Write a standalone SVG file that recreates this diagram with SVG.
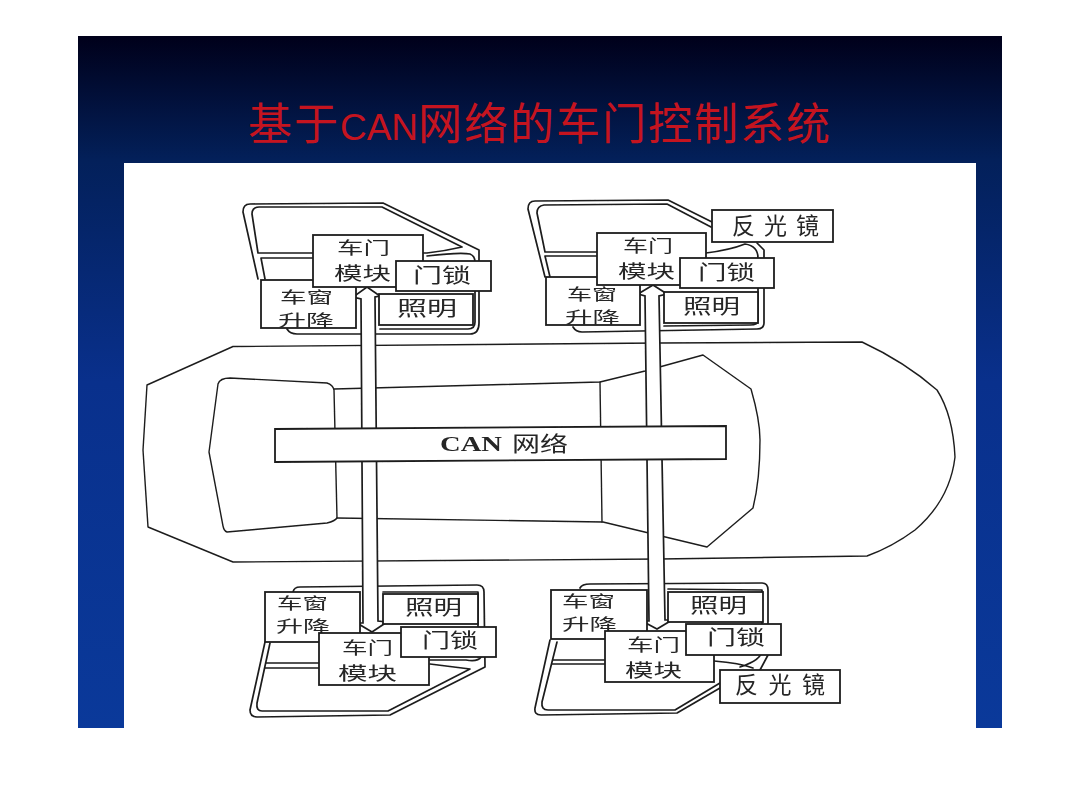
<svg xmlns="http://www.w3.org/2000/svg" width="1080" height="810" viewBox="0 0 1080 810">
<style>
.ln{fill:none;stroke:#1c1c1c;stroke-width:1.4;stroke-linejoin:round;stroke-linecap:round}
.dr{fill:none;stroke:#1c1c1c;stroke-width:1.7;stroke-linejoin:round;stroke-linecap:round}
.bx{fill:#fff;stroke:#1c1c1c;stroke-width:1.8}
.ar{fill:#fff;stroke:#1c1c1c;stroke-width:1.7;stroke-linejoin:miter}
text{font-family:"Noto Sans CJK SC","Liberation Serif",sans-serif;fill:#262626}
.a{font-size:17px}
.b{font-size:18px}
.c{font-size:20px}
.e{font-size:16px}
.g{font-size:23px}
</style>
<defs>
<linearGradient id="bg" x1="0" y1="0" x2="0" y2="1">
<stop offset="0" stop-color="#00001a"/>
<stop offset="0.18" stop-color="#03205a"/>
<stop offset="0.5" stop-color="#09308c"/>
<stop offset="1" stop-color="#0a399a"/>
</linearGradient>
<filter id="soft" x="-2%" y="-2%" width="104%" height="104%"><feGaussianBlur stdDeviation="0.45"/></filter>
</defs>
<rect width="1080" height="810" fill="#fff"/>
<rect id="slide" x="78" y="36" width="924" height="692" fill="url(#bg)"/>
<rect id="panel" x="124" y="163" width="852" height="565" fill="#fff"/>
<text id="title" x="540" y="140" text-anchor="middle" style="font-size:44px;fill:#c5141f;letter-spacing:2px">基于<tspan style="font-family:'Liberation Sans Narrow','Liberation Sans',sans-serif;font-size:37px;letter-spacing:0">CAN</tspan>网络的车门控制系统</text>
<g filter="url(#soft)">
<g id="car">
<path class="ln" d="M233,346.500 L660,343 L862,342 Q905,362 937,390 Q953,415 955,457 Q950,500 915,530 Q892,547 867,556 L660,559 L233,562 L148,527 L143,450 L147,385 Z"/>
<path class="ln" d="M218,384 Q220,378 230,378 L327,383 Q333,385 334,390 L337,518 Q335,521 327,523 L227,532 Q224,531 223,526 L209,452 Z"/>
<path class="ln" d="M334,389 L600,382 L645,371 L703,355 L751,389 Q760,420 760,440 Q760,480 753,508 L707,547 L603,522 L337,518"/>
<path class="ln" d="M600,382 L602,522"/>
</g>
<g id="door-front-left">
<path class="dr" d="M258,279 L243,212 Q243,204 250,204 L383,203 L479,250 L479,323 Q479,334 470,334 L297,334 Q290,334 287,329"/>
<path class="dr" d="M258,253 L252,214 Q252,207 259,207 L382,207 L462,247 Q445,251 427,253 L405,253 M258,253 L313,253 M261,258 L313,258 L261,258 L265,279 M427,256 Q460,252 470,254 Q475,256 475,262 L475,322 Q475,329 468,329 L380,329"/>
</g>
<g id="door-front-right">
<path class="dr" d="M545,277 L528,209 Q528,201 535,201 L668,200 L712,222 M757,243 L764,250 L764,323 Q764,329 757,329 L582,332 Q576,332 573,327"/>
<path class="dr" d="M545,252 L537,213 Q537,206 544,205 L667,204 L711,227 M545,252 L597,252 M545,256 L597,256 M545,256 L550,277 M706,253 Q730,250 745,244 Q758,246 758,258 L758,320 Q758,325 750,325 L664,326"/>
</g>
<g id="door-rear-left">
<path class="dr" d="M293,592 Q294,587 300,587 L477,585 Q484,585 484,592 L485,667 L390,715 L257,717 Q250,717 250,710 L265,642"/>
<path class="dr" d="M270,643 L257,703 Q256,711 262,711 L388,711 L470,669 L430,664 M265,668 L320,668 M267,663 L320,663 M383,592 L478,592 L478,657 M430,660 L466,660 Q478,662 481,657"/>
</g>
<g id="door-rear-right">
<path class="dr" d="M580,588 Q582,584 590,584 L762,583 Q768,583 768,590 L768,655 L760,670 M720,688 L677,713 L541,715 Q534,715 535,708 L550,640"/>
<path class="dr" d="M557,642 L542,702 Q541,710 548,710 L675,710 L720,683 M553,660 L605,660 M552,664 L605,664 M714,661 Q740,663 753,668 M740,667 Q762,660 762,650 L762,590 L668,589"/>
</g>
<g id="connectors">
<path id="link-left" class="ar" d="M367,287 L380,296 L375,297 L378,621 L387,622 L372,632 L357,623 L363,623 L361,299 L353,297 Z"/>
<path id="link-right" class="ar" d="M653,285 L667,294 L659,296 L665,620 L672,620 L657,629 L642,621 L649,621 L645,296 L638,294 Z"/>
</g>
<g id="can-network">
<polygon class="bx" points="275,429 726,426 726,459 275,462"/>
<text y="451" style="font-size:21px"><tspan x="440" textLength="62" lengthAdjust="spacingAndGlyphs" style="font-family:'Liberation Serif',serif;font-weight:bold">CAN</tspan> <tspan x="512" textLength="56" lengthAdjust="spacingAndGlyphs">网络</tspan></text>
</g>
<g id="fl-lift"><rect class="bx" x="261" y="280" width="95" height="48"/><text><tspan class="e" x="280" y="303" textLength="53" lengthAdjust="spacingAndGlyphs">车窗</tspan><tspan class="e" x="278" y="326" textLength="56" lengthAdjust="spacingAndGlyphs">升降</tspan></text></g>
<g id="fl-light"><rect class="bx" x="379" y="294" width="94" height="31"/><text class="c" x="397" y="316" textLength="60" lengthAdjust="spacingAndGlyphs">照明</text></g>
<g id="fl-module"><rect class="bx" x="313" y="235" width="110" height="52"/><text><tspan class="a" x="337" y="254" textLength="53" lengthAdjust="spacingAndGlyphs">车门</tspan><tspan class="b" x="334" y="280" textLength="57" lengthAdjust="spacingAndGlyphs">模块</tspan></text></g>
<g id="fl-lock"><rect class="bx" x="396" y="261" width="95" height="30"/><text class="c" x="413" y="283" textLength="58" lengthAdjust="spacingAndGlyphs">门锁</text></g>
<g id="fr-lift"><rect class="bx" x="546" y="277" width="94" height="48"/><text><tspan class="e" x="567" y="300" textLength="50" lengthAdjust="spacingAndGlyphs">车窗</tspan><tspan class="e" x="565" y="323" textLength="55" lengthAdjust="spacingAndGlyphs">升降</tspan></text></g>
<g id="fr-light"><rect class="bx" x="664" y="292" width="94" height="31"/><text class="c" x="683" y="314" textLength="57" lengthAdjust="spacingAndGlyphs">照明</text></g>
<g id="fr-module"><rect class="bx" x="597" y="233" width="109" height="52"/><text><tspan class="a" x="623" y="252" textLength="50" lengthAdjust="spacingAndGlyphs">车门</tspan><tspan class="b" x="618" y="278" textLength="57" lengthAdjust="spacingAndGlyphs">模块</tspan></text></g>
<g id="fr-lock"><rect class="bx" x="680" y="258" width="94" height="30"/><text class="c" x="698" y="280" textLength="57" lengthAdjust="spacingAndGlyphs">门锁</text></g>
<g id="fr-mirror"><rect class="bx" x="712" y="210" width="121" height="32"/><text class="g" x="732" y="234" textLength="87" lengthAdjust="spacing">反光镜</text></g>
<g id="rl-lift"><rect class="bx" x="265" y="592" width="95" height="50"/><text><tspan class="e" x="277" y="609" textLength="51" lengthAdjust="spacingAndGlyphs">车窗</tspan><tspan class="e" x="276" y="632" textLength="54" lengthAdjust="spacingAndGlyphs">升降</tspan></text></g>
<g id="rl-light"><rect class="bx" x="383" y="594" width="95" height="30"/><text class="c" x="405" y="615" textLength="57" lengthAdjust="spacingAndGlyphs">照明</text></g>
<g id="rl-module"><rect class="bx" x="319" y="633" width="110" height="52"/><text><tspan class="a" x="342" y="654" textLength="51" lengthAdjust="spacingAndGlyphs">车门</tspan><tspan class="b" x="338" y="680" textLength="59" lengthAdjust="spacingAndGlyphs">模块</tspan></text></g>
<g id="rl-lock"><rect class="bx" x="401" y="627" width="95" height="30"/><text class="c" x="422" y="648" textLength="56" lengthAdjust="spacingAndGlyphs">门锁</text></g>
<g id="rr-lift"><rect class="bx" x="551" y="590" width="96" height="49"/><text><tspan class="e" x="562" y="607" textLength="53" lengthAdjust="spacingAndGlyphs">车窗</tspan><tspan class="e" x="562" y="630" textLength="55" lengthAdjust="spacingAndGlyphs">升降</tspan></text></g>
<g id="rr-light"><rect class="bx" x="668" y="592" width="95" height="30"/><text class="c" x="690" y="613" textLength="57" lengthAdjust="spacingAndGlyphs">照明</text></g>
<g id="rr-module"><rect class="bx" x="605" y="631" width="109" height="51"/><text><tspan class="a" x="627" y="651" textLength="53" lengthAdjust="spacingAndGlyphs">车门</tspan><tspan class="b" x="625" y="677" textLength="57" lengthAdjust="spacingAndGlyphs">模块</tspan></text></g>
<g id="rr-lock"><rect class="bx" x="686" y="624" width="95" height="31"/><text class="c" x="707" y="645" textLength="58" lengthAdjust="spacingAndGlyphs">门锁</text></g>
<g id="rr-mirror"><rect class="bx" x="720" y="670" width="120" height="33"/><text class="g" x="735" y="693" textLength="90" lengthAdjust="spacing">反光镜</text></g>
</g>
</svg>
